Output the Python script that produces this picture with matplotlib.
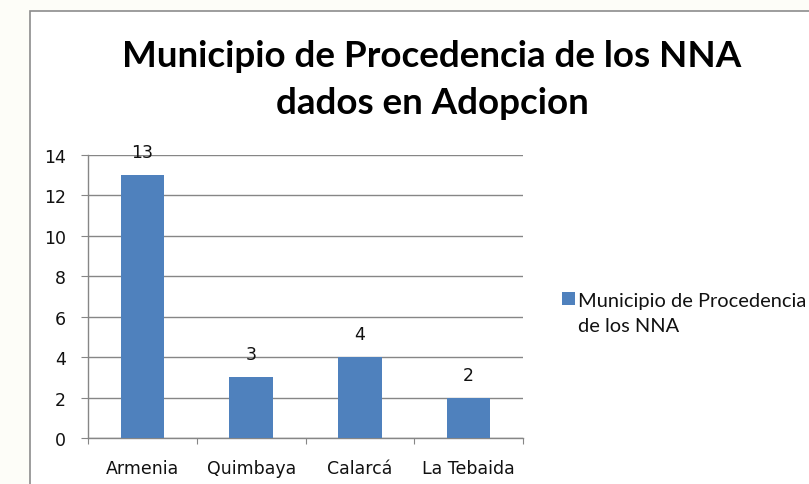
import matplotlib
matplotlib.use("Agg")
import matplotlib.pyplot as plt
from matplotlib.patches import Rectangle

categories = ["Armenia", "Quimbaya", "Calarcá", "La Tebaida"]
values = [13, 3, 4, 2]
series_lines = ["Municipio de Procedencia", "de los NNA"]
title_lines = ["Municipio de Procedencia de los NNA", "dados en Adopcion"]
yticks = [0, 2, 4, 6, 8, 10, 12, 14]
bar_color = "#4F81BD"

W, H = 809, 485
fig = plt.figure(figsize=(W / 100, H / 100), dpi=100)
fig.patch.set_facecolor("#fdfdf8")

# chart border (extends beyond the right/bottom edges)
border = Rectangle((30 / W, -0.05), 1.0, 1 - 12 / H + 0.05, transform=fig.transFigure,
                   facecolor="white", edgecolor="#8c8c8c", linewidth=1.2, zorder=-5)
fig.patches.append(border)

ax = fig.add_axes([88 / W, 1 - 439 / H, (523 - 88) / W, (439 - 156) / H])
ax.set_zorder(2)
ax.set_facecolor("none")
x = list(range(len(categories)))
bars = ax.bar(x, values, width=0.4, color=bar_color, zorder=3)
ax.bar_label(bars, labels=[str(v) for v in values], padding=10, fontsize=12.5,
             family="DejaVu Sans", color="#111111")

ax.set_xlim(-0.5, len(categories) - 0.5)
ax.set_ylim(0, 14)
ax.set_yticks(yticks)
ax.set_yticklabels([str(t) for t in yticks], fontsize=12.5, family="DejaVu Sans", color="#111111")
ax.yaxis.grid(True, color="#868686", linewidth=1.0, zorder=0)
ax.set_axisbelow(True)

ax.set_xticks([i - 0.5 for i in range(len(categories) + 1)])
ax.set_xticklabels([])
ax.set_xticks(x, minor=True)
ax.set_xticklabels(categories, minor=True, fontsize=12.5, family="DejaVu Sans", color="#111111")
ax.tick_params(axis="x", which="minor", length=0, pad=15)
ax.tick_params(axis="x", which="major", length=4.5, color="#868686", direction="out")
ax.tick_params(axis="y", length=5, color="#868686", direction="out", pad=11)

for s in ["top", "right"]:
    ax.spines[s].set_visible(False)
for s in ["left", "bottom"]:
    ax.spines[s].set_color("#868686")
    ax.spines[s].set_linewidth(1.0)

fig.text(432 / W, 1 - 67 / H, title_lines[0], ha="center", va="baseline", fontsize=26.5,
         fontweight="bold", family="Lato", color="black")
fig.text(432 / W, 1 - 114 / H, title_lines[1], ha="center", va="baseline", fontsize=26.5,
         fontweight="bold", family="Lato", color="black")

# legend
fig.patches.append(Rectangle((562 / W, 1 - 306 / H), 13 / W, 13 / H, transform=fig.transFigure,
                             facecolor=bar_color, edgecolor="none", zorder=3))
fig.text(578 / W, 1 - 307 / H, series_lines[0], ha="left", va="baseline", fontsize=14.4,
         family="Lato", color="#111111")
fig.text(578 / W, 1 - 332 / H, series_lines[1], ha="left", va="baseline", fontsize=14.4,
         family="Lato", color="#111111")

fig.savefig("out.png", dpi=100)
